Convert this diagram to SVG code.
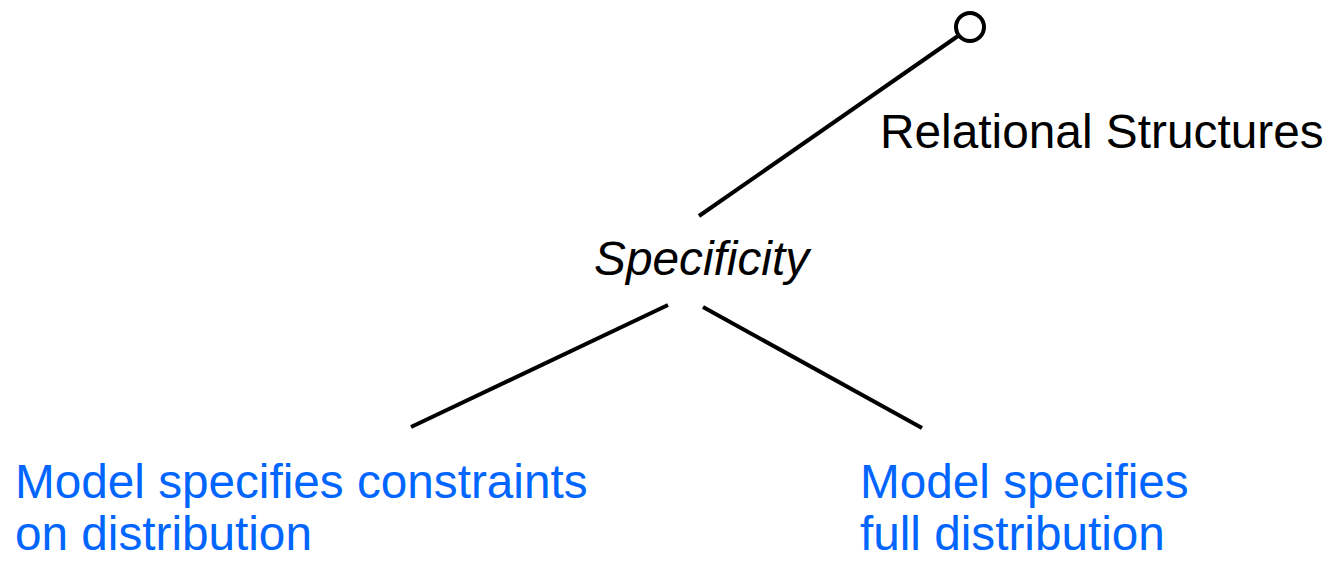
<svg xmlns="http://www.w3.org/2000/svg" width="1330" height="561" viewBox="0 0 1330 561">
<style>
.edge{stroke:#000;stroke-width:4;fill:none;stroke-linecap:butt}
.lbl{font-family:"Liberation Sans",Arial,sans-serif;font-size:47.8px;fill:#000}
.blue{font-family:"Liberation Sans",Arial,sans-serif;font-size:47.7px;fill:#0066FF}
</style>
<rect width="1330" height="561" fill="#fff"/>
<g id="connectors">
<line class="edge" x1="699" y1="216" x2="958" y2="36"/>
<line class="edge" x1="668" y1="305" x2="411" y2="427"/>
<line class="edge" x1="703" y1="307" x2="922" y2="428"/>
</g>
<g id="root">
<circle cx="970" cy="27" r="14" fill="#fff" stroke="#000" stroke-width="4"/>
<text class="lbl" x="880" y="148">Relational Structures</text>
</g>
<g id="specificity">
<text class="lbl" x="594" y="275" font-style="italic">Specificity</text>
</g>
<g id="constraints">
<text class="blue" x="15" y="498">Model specifies constraints</text>
<text class="blue" x="15" y="550">on distribution</text>
</g>
<g id="full">
<text class="blue" x="860" y="498">Model specifies</text>
<text class="blue" x="860" y="550">full distribution</text>
</g>
</svg>
